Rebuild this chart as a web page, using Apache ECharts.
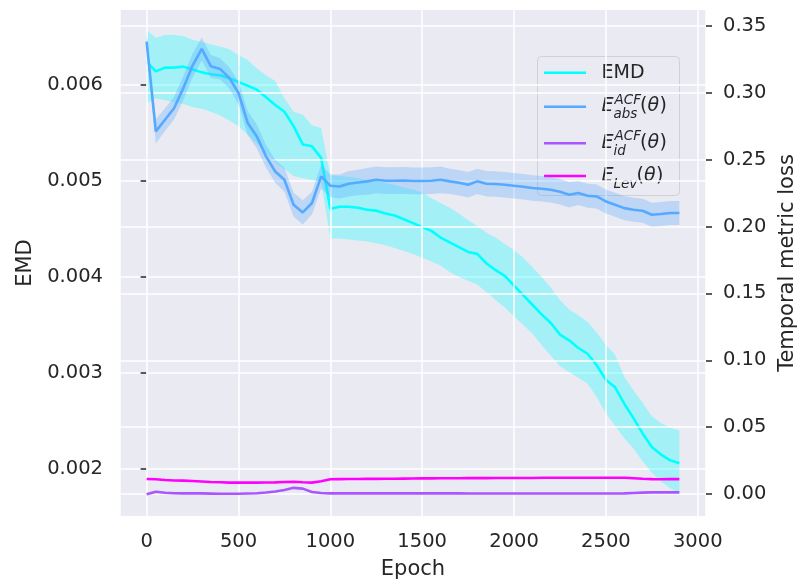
<!DOCTYPE html>
<html>
<head>
<meta charset="utf-8">
<script src="https://cdn.jsdelivr.net/npm/echarts@6/dist/echarts.min.js"></script>
<style>
  html, body { margin: 0; padding: 0; background: #ffffff; }
  #chart { width: 797px; height: 585px; }
</style>
</head>
<body>
<div id="chart"></div>
<script>
// Training epochs (x positions of every series)
const epochs = [
  0, 50, 100, 150, 200, 250, 300, 350, 400, 450, 500, 550, 600, 650, 700, 750, 800, 850, 900, 950,
  1000, 1050, 1100, 1150, 1200, 1250, 1300, 1350, 1400, 1450, 1500, 1550, 1600, 1650, 1700, 1750, 1800, 1850, 1900, 1950,
  2000, 2050, 2100, 2150, 2200, 2250, 2300, 2350, 2400, 2450, 2500, 2550, 2600, 2650, 2700, 2750, 2800, 2850, 2900
];

// EMD (left axis): mean curve and the shaded range around it
const emdMean = [
  0.00624, 0.00614, 0.00618, 0.00618, 0.00619, 0.00616, 0.00613, 0.00611, 0.00610, 0.00607,
  0.00603, 0.00599, 0.00595, 0.00587, 0.00579, 0.00572, 0.00557, 0.00538, 0.00536, 0.00524,
  0.00471, 0.00473, 0.00473, 0.00472, 0.00470, 0.00469, 0.00466, 0.00464, 0.00460, 0.00456,
  0.00452, 0.00448, 0.00441, 0.00436, 0.00431, 0.00426, 0.00424, 0.00414, 0.00407, 0.00401,
  0.00391, 0.00381, 0.00371, 0.00361, 0.00352, 0.00340, 0.00334, 0.00326, 0.00320, 0.00308,
  0.00293, 0.00285, 0.00268, 0.00253, 0.00237, 0.00223, 0.00215, 0.00209, 0.00206
];
const emdUpper = [
  0.00657, 0.00649, 0.00652, 0.00652, 0.00651, 0.00647, 0.00645, 0.00642, 0.00640, 0.00637,
  0.00631, 0.00626, 0.00617, 0.00610, 0.00604, 0.00586, 0.00572, 0.00569, 0.00558, 0.00555,
  0.00506, 0.00505, 0.00504, 0.00503, 0.00501, 0.00500, 0.00498, 0.00496, 0.00493, 0.00491,
  0.00488, 0.00482, 0.00477, 0.00472, 0.00466, 0.00459, 0.00453, 0.00446, 0.00441, 0.00434,
  0.00428, 0.00420, 0.00410, 0.00400, 0.00389, 0.00376, 0.00366, 0.00360, 0.00353, 0.00342,
  0.00329, 0.00319, 0.00296, 0.00282, 0.00269, 0.00255, 0.00248, 0.00243, 0.00240
];
const emdLower = [
  0.00581, 0.00586, 0.00584, 0.00582, 0.00580, 0.00577, 0.00575, 0.00572, 0.00568, 0.00563,
  0.00557, 0.00548, 0.00539, 0.00529, 0.00519, 0.00512, 0.00505, 0.00503, 0.00501, 0.00499,
  0.00440, 0.00440, 0.00439, 0.00438, 0.00437, 0.00435, 0.00433, 0.00430, 0.00427, 0.00424,
  0.00420, 0.00416, 0.00412, 0.00405, 0.00400, 0.00396, 0.00392, 0.00384, 0.00376, 0.00368,
  0.00359, 0.00350, 0.00341, 0.00329, 0.00318, 0.00307, 0.00301, 0.00295, 0.00289, 0.00275,
  0.00258, 0.00245, 0.00232, 0.00221, 0.00208, 0.00196, 0.00187, 0.00180, 0.00175
];

// Temporal metric losses (right axis)
const acfAbsMean = [
  0.3383, 0.2712, 0.2799, 0.2887, 0.3037, 0.3204, 0.3329, 0.3198, 0.3179, 0.3112,
  0.2999, 0.2775, 0.2674, 0.2525, 0.2412, 0.2350, 0.2163, 0.2106, 0.2176, 0.2375,
  0.2305, 0.2300, 0.2320, 0.2330, 0.2338, 0.2350, 0.2343, 0.2343, 0.2345, 0.2341,
  0.2341, 0.2343, 0.2350, 0.2338, 0.2328, 0.2313, 0.2338, 0.2320, 0.2318, 0.2313,
  0.2305, 0.2298, 0.2288, 0.2283, 0.2275, 0.2260, 0.2238, 0.2251, 0.2231, 0.2225,
  0.2188, 0.2163, 0.2138, 0.2126, 0.2118, 0.2088, 0.2094, 0.2101, 0.2101
];
const acfAbsSpread = [
  0.0060, 0.0090, 0.0085, 0.0085, 0.0090, 0.0090, 0.0085, 0.0085, 0.0080, 0.0080,
  0.0085, 0.0090, 0.0090, 0.0085, 0.0085, 0.0090, 0.0090, 0.0090, 0.0085, 0.0090,
  0.0085, 0.0090, 0.0095, 0.0095, 0.0100, 0.0100, 0.0100, 0.0100, 0.0100, 0.0100,
  0.0100, 0.0100, 0.0100, 0.0095, 0.0095, 0.0095, 0.0095, 0.0095, 0.0095, 0.0095,
  0.0095, 0.0095, 0.0095, 0.0095, 0.0095, 0.0095, 0.0095, 0.0090, 0.0090, 0.0090,
  0.0090, 0.0090, 0.0090, 0.0090, 0.0090, 0.0090, 0.0090, 0.0090, 0.0090
];
const acfIdMean = [
  -0.0002, 0.0017, 0.0009, 0.0006, 0.0005, 0.00045, 0.00045, 0.0003, 0.00015, 0.00015,
  0.0002, 0.0004, 0.0006, 0.0011, 0.0019, 0.0030, 0.0046, 0.0040, 0.0015, 0.0008,
  0.0005, 0.0005, 0.0005, 0.0005, 0.0005, 0.0005, 0.0005, 0.0005, 0.0005, 0.0005,
  0.0005, 0.0005, 0.0005, 0.0005, 0.0005, 0.0004, 0.0004, 0.0004, 0.0004, 0.0004,
  0.0004, 0.0004, 0.0004, 0.0004, 0.0004, 0.0004, 0.0004, 0.0004, 0.0004, 0.0004,
  0.0004, 0.0004, 0.0005, 0.0008, 0.0010, 0.0012, 0.0013, 0.0012, 0.0012
];
const levMean = [
  0.0112, 0.0110, 0.0105, 0.0101, 0.0100, 0.0097, 0.0094, 0.0090, 0.0088, 0.0085,
  0.0085, 0.0085, 0.0085, 0.0086, 0.0087, 0.0090, 0.0092, 0.0088, 0.0085, 0.0095,
  0.0110, 0.0111, 0.0112, 0.0112, 0.0113, 0.0113, 0.0114, 0.0114, 0.0115, 0.0116,
  0.0117, 0.0117, 0.0118, 0.0118, 0.0118, 0.0119, 0.0119, 0.0119, 0.0120, 0.0120,
  0.0120, 0.0120, 0.0120, 0.0121, 0.0121, 0.0121, 0.0122, 0.0122, 0.0122, 0.0122,
  0.0122, 0.0122, 0.0122, 0.0118, 0.0114, 0.0111, 0.0110, 0.0111, 0.0111
];

const COLORS = { emd: '#00ffff', abs: '#55aaff', id: '#aa55ff', lev: '#ff00ff' };
const TEXT = '#262626';
const FONT = '"DejaVu Sans", "Liberation Sans", sans-serif';

const pairs = (ys) => epochs.map((e, i) => [e, ys[i]]);
const acfLower = acfAbsMean.map((m, i) => m - acfAbsSpread[i]);
const acfUpper = acfAbsMean.map((m, i) => m + acfAbsSpread[i]);

// Shaded range: one polygon running along the upper bound and back along the lower bound
function bandSeries(yAxisIndex, lower, upper, color, z) {
  return {
    type: 'custom', coordinateSystem: 'cartesian2d', yAxisIndex, z, silent: true,
    clip: true,
    data: pairs(upper),
    renderItem(params, api) {
      if (params.dataIndex !== 0) return null;
      const pts = [];
      for (let i = 0; i < epochs.length; i++) pts.push(api.coord([epochs[i], upper[i]]));
      for (let i = epochs.length - 1; i >= 0; i--) pts.push(api.coord([epochs[i], lower[i]]));
      return { type: 'polygon', shape: { points: pts }, style: { fill: color, opacity: 0.3 } };
    }
  };
}

function lineSeries(name, yAxisIndex, ys, color, z) {
  return {
    name, type: 'line', yAxisIndex, z, silent: true,
    symbol: 'none', smooth: false,
    lineStyle: { color, width: 2.6 },
    data: pairs(ys)
  };
}

const chart = echarts.init(document.getElementById('chart'), null, { renderer: 'canvas' });

const axisLabelStyle = { color: TEXT, fontSize: 19.5, fontFamily: FONT };
const splitStyle = { show: true, lineStyle: { color: '#ffffff', width: 1.5 } };

// Legend entries drawn as graphic text so the math notation (E with stacked
// superscript/subscript) can be laid out like typeset formulas.
const LX = 601.5;
function mathEntry(yc, sup, sub) {
  const els = [
    { type: 'text', style: { x: LX, y: yc, text: 'E', font: 'italic 19px ' + FONT, fill: TEXT, align: 'left', verticalAlign: 'middle' } }
  ];
  if (sup) els.push({ type: 'text', style: { x: LX + 13, y: yc - 6.5, text: sup, font: 'italic 13.5px ' + FONT, fill: TEXT, align: 'left', verticalAlign: 'middle' } });
  if (sub) els.push({ type: 'text', style: { x: LX + 12, y: yc + 8, text: sub, font: 'italic 13.5px ' + FONT, fill: TEXT, align: 'left', verticalAlign: 'middle' } });
  const after = sup ? 38.5 : 35;
  els.push({ type: 'text', style: { x: LX + after, y: yc, text: '(', font: '19px ' + FONT, fill: TEXT, align: 'left', verticalAlign: 'middle' } });
  els.push({ type: 'text', style: { x: LX + after + 7.5, y: yc, text: 'θ', font: 'italic 19px ' + FONT, fill: TEXT, align: 'left', verticalAlign: 'middle' } });
  els.push({ type: 'text', style: { x: LX + after + 19.5, y: yc, text: ')', font: '19px ' + FONT, fill: TEXT, align: 'left', verticalAlign: 'middle' } });
  return els;
}
function swatch(yc, color) {
  return { type: 'line', shape: { x1: 544, y1: yc, x2: 586, y2: yc }, style: { stroke: color, lineWidth: 2.6 } };
}

const legendChildren = [
  { type: 'rect', shape: { x: 537.5, y: 56.5, width: 142, height: 139, r: 4 },
    style: { fill: 'rgba(234,234,242,0.8)', stroke: 'rgba(204,204,204,0.85)', lineWidth: 1 } },
  swatch(72.7, COLORS.emd),
  { type: 'text', style: { x: LX, y: 73, text: 'EMD', font: '19px ' + FONT, fill: TEXT, align: 'left', verticalAlign: 'middle' } },
  swatch(106.7, COLORS.abs),
  ...mathEntry(106.5, 'ACF', 'abs'),
  swatch(143.3, COLORS.id),
  ...mathEntry(143, 'ACF', 'id'),
  swatch(176, COLORS.lev),
  ...mathEntry(176.5, null, 'Lev')
];

chart.setOption({
  animation: false,
  backgroundColor: '#ffffff',
  grid: {
    left: 120, right: 91, top: 9, bottom: 68,
    containLabel: false, outerBoundsMode: 'none',
    show: true, backgroundColor: '#eaeaf2', borderWidth: 0
  },
  xAxis: {
    type: 'value', min: -145, max: 3045, z: 4,
    name: 'Epoch', nameLocation: 'middle', nameGap: 42,
    nameTextStyle: { color: TEXT, fontSize: 21, fontFamily: FONT },
    axisLine: { show: false }, axisTick: { show: false },
    axisLabel: Object.assign({ margin: 15, showMinLabel: false, showMaxLabel: false,
      formatter: (v) => String(Math.round(v)) }, axisLabelStyle),
    splitLine: splitStyle
  },
  yAxis: [
    {
      type: 'value', position: 'left', min: 0.0015, max: 0.00679, splitNumber: 5, z: 0,
      name: 'EMD', nameLocation: 'middle', nameGap: 83, nameRotate: 90,
      nameTextStyle: { color: TEXT, fontSize: 21, fontFamily: FONT },
      axisLine: { show: false },
      axisTick: { show: true, length: 6, lineStyle: { color: TEXT, width: 1.5 } },
      axisLabel: Object.assign({ margin: 17, showMinLabel: false, showMaxLabel: false,
        formatter: (v) => v.toFixed(3) }, axisLabelStyle),
      splitLine: splitStyle
    },
    {
      // secondary axis sits above the EMD layer, so its grid lines cross the cyan band
      type: 'value', position: 'right', min: -0.0172, max: 0.3627, splitNumber: 8, z: 4,
      name: 'Temporal metric loss', nameLocation: 'middle', nameGap: 69, nameRotate: 90,
      nameTextStyle: { color: TEXT, fontSize: 21, fontFamily: FONT },
      axisLine: { show: false },
      axisTick: { show: true, length: 6, lineStyle: { color: TEXT, width: 1.5 } },
      axisLabel: Object.assign({ margin: 17, showMinLabel: false, showMaxLabel: false,
        formatter: (v) => v.toFixed(2) }, axisLabelStyle),
      splitLine: splitStyle
    }
  ],
  series: [
    bandSeries(0, emdLower, emdUpper, COLORS.emd, 2),
    lineSeries('EMD', 0, emdMean, COLORS.emd, 3),
    bandSeries(1, acfLower, acfUpper, COLORS.abs, 5),
    lineSeries('E_abs^ACF(θ)', 1, acfAbsMean, COLORS.abs, 6),
    lineSeries('E_id^ACF(θ)', 1, acfIdMean, COLORS.id, 6),
    lineSeries('E_Lev(θ)', 1, levMean, COLORS.lev, 6)
  ],
  graphic: [{ type: 'group', z: 100, children: legendChildren }]
});
</script>
</body>
</html>
